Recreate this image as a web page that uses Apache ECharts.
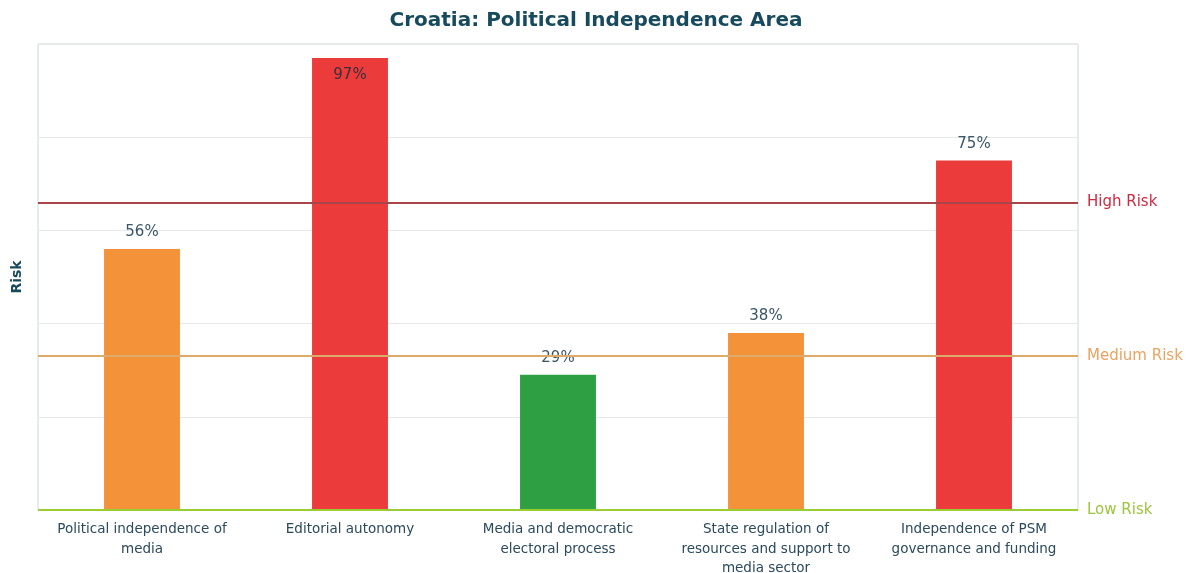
<!DOCTYPE html>
<html>
<head>
<meta charset="utf-8">
<script src="https://cdn.jsdelivr.net/npm/echarts@6/dist/echarts.min.js"></script>
<style>
  html, body { margin: 0; padding: 0; background: #ffffff; }
  #chart { width: 1192px; height: 573px; }
</style>
</head>
<body>
<div id="chart"></div>
<script>
// Indicator names (tick labels, with their line breaks)
const categories = [
  'Political independence of\nmedia',
  'Editorial autonomy',
  'Media and democratic\nelectoral process',
  'State regulation of\nresources and support to\nmedia sector',
  'Independence of PSM\ngovernance and funding'
];
// Risk score per indicator, in percent
const riskValues = [56, 97, 29, 38, 75];
// Risk band thresholds drawn as horizontal reference lines
const thresholdNames = ['Low Risk', 'Medium Risk', 'High Risk'];
const thresholdValues = [0, 33, 66];

const bandColor = v => (v > 66 ? '#ec3b3b' : v > 33 ? '#f4923a' : '#2ea043');
const lineStyles = [
  { line: '#9acd32', text: '#9bc53d' },
  { line: '#dcab6a', text: '#eaa35f' },
  { line: '#a8444a', text: '#d0283f' }
];
const textColor = '#2b4a5c';
const font = 'DejaVu Sans';

const chart = echarts.init(document.getElementById('chart'));
chart.setOption({
  animation: false,
  backgroundColor: '#ffffff',
  title: {
    text: 'Croatia: Political Independence Area',
    left: 'center',
    top: 6,
    textStyle: { fontFamily: font, fontSize: 20, fontWeight: 'bold', color: '#174a5c' }
  },
  grid: {
    left: 38, right: 114, top: 44, bottom: 63,
    outerBoundsMode: 'none',
    containLabel: false,
    show: true, borderColor: '#cfd6da', borderWidth: 1
  },
  xAxis: {
    type: 'category',
    data: categories,
    axisTick: { show: false },
    axisLine: { show: false },
    axisLabel: {
      interval: 0, margin: 10,
      fontFamily: font, fontSize: 13.5, lineHeight: 19.5, color: textColor
    }
  },
  yAxis: {
    type: 'value',
    min: 0, max: 100, interval: 20,
    name: 'Risk',
    nameLocation: 'middle',
    nameGap: 14,
    nameTextStyle: { fontFamily: font, fontSize: 14, fontWeight: 'bold', color: '#174a5c' },
    axisLabel: { show: false },
    axisTick: { show: false },
    axisLine: { show: false },
    splitLine: { lineStyle: { color: '#e6e9ea', width: 1 } }
  },
  series: [{
    type: 'bar',
    barWidth: '36.5%',
    data: riskValues.map(v => ({
      value: v,
      itemStyle: { color: bandColor(v) },
      label: v > 90
        ? { position: 'insideTop', distance: 10, color: '#3a2f3a' }
        : { position: 'top', distance: 9, color: '#3a5567' }
    })),
    label: {
      show: true,
      formatter: p => p.value + '%',
      fontFamily: font, fontSize: 15
    },
    markLine: {
      silent: true,
      symbol: 'none',
      animation: false,
      data: thresholdValues.map((v, i) => ({
        yAxis: v,
        lineStyle: { color: lineStyles[i].line, type: 'solid', width: 2 },
        label: {
          show: true, position: 'end', distance: 9,
          formatter: thresholdNames[i],
          fontFamily: font, fontSize: 15, color: lineStyles[i].text
        }
      }))
    }
  }]
});
</script>
</body>
</html>
